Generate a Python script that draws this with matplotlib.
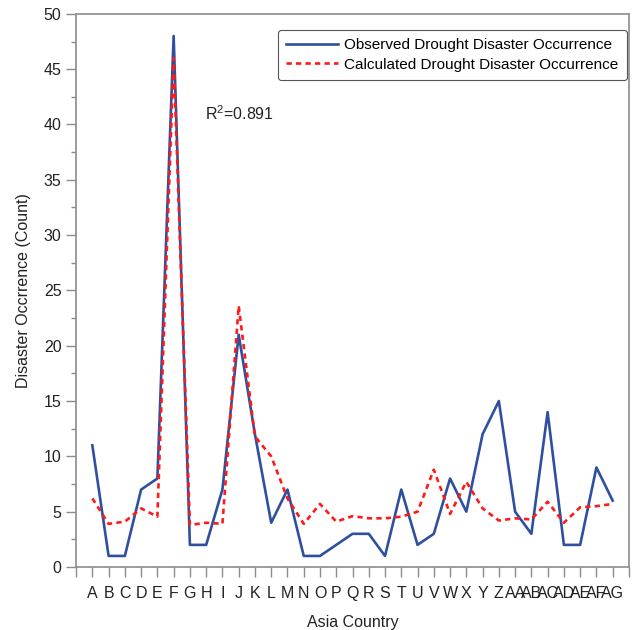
import matplotlib
matplotlib.use("Agg")
import matplotlib.pyplot as plt
from matplotlib.ticker import MultipleLocator
import numpy as np

plt.rcParams['font.family'] = ['Liberation Sans', 'DejaVu Sans']
plt.rcParams['mathtext.default'] = 'regular'

countries = ['A', 'B', 'C', 'D', 'E', 'F', 'G', 'H', 'I', 'J', 'K', 'L', 'M', 'N', 'O', 'P', 'Q',
             'R', 'S', 'T', 'U', 'V', 'W', 'X', 'Y', 'Z', 'AA', 'AB', 'AC', 'AD', 'AE', 'AF', 'AG']
observed = [11, 1, 1, 7, 8, 48, 2, 2, 7, 21, 12, 4, 7, 1, 1, 2, 3,
            3, 1, 7, 2, 3, 8, 5, 12, 15, 5, 3, 14, 2, 2, 9, 6]
calculated = [6.2, 3.9, 4.1, 5.3, 4.55, 46, 3.8, 4.0, 3.9, 23.6, 11.8, 10.0, 6.2, 3.9, 5.7, 4.1, 4.6,
              4.4, 4.4, 4.55, 5.0, 8.8, 4.8, 7.7, 5.3, 4.2, 4.4, 4.3, 5.9, 4.0, 5.4, 5.5, 5.7]

gray = '#8c8c8c'
txt = '#222222'
x = np.arange(1, len(countries) + 1)

fig = plt.figure(figsize=(6.34, 6.30), dpi=100)
ax = fig.add_axes([0.12, 0.1, 0.872, 0.878])

ax.plot(x, observed, color='#2f4f9f', lw=1.9, label='Observed Drought Disaster Occurrence')
ax.plot(x, calculated, color='#ff1a1a', lw=1.9, linestyle=(0, (2, 1.6)),
        label='Calculated Drought Disaster Occurrence')

ax.set_xlim(0, len(countries) + 1)
ax.set_ylim(0, 50)
ax.set_xticks(np.arange(0, len(countries) + 2))
ax.set_xticklabels([''] + countries + [''])
ax.yaxis.set_major_locator(MultipleLocator(5))
ax.yaxis.set_minor_locator(MultipleLocator(2.5))

for s in ax.spines.values():
    s.set_color(gray)
    s.set_linewidth(1.2)
ax.tick_params(axis='both', which='major', direction='out', color=gray, length=7, width=1,
               labelsize=11.5, labelcolor=txt)
ax.tick_params(axis='y', which='minor', direction='out', color=gray, length=3.5, width=1)
ax.tick_params(axis='x', pad=7)

ax.set_xlabel('Asia Country', fontsize=11.5, color=txt, labelpad=10)
ax.set_ylabel('Disaster Occrrence (Count)', fontsize=11.5, color=txt, labelpad=9)

ax.text(7.9, 41, 'R$^2$=0.891', fontsize=11.5, color=txt, va='center')

leg = ax.legend(loc='upper right', fontsize=11, handlelength=3.4, borderpad=0.55,
                labelspacing=0.35, handletextpad=0.4, fancybox=True, framealpha=1,
                borderaxespad=0, bbox_to_anchor=(0.9964, 0.971))
leg.get_frame().set_edgecolor('#555555')
leg.get_frame().set_linewidth(0.8)

fig.savefig('out.png', dpi=100)
